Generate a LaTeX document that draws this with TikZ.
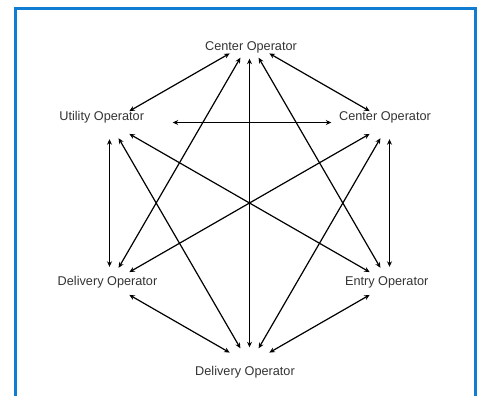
\documentclass[tikz,border=0pt]{standalone}
\usepackage{fontspec}
\setmainfont{Liberation Sans}
\usetikzlibrary{arrows.meta,shapes.geometric}
\definecolor{frameblue}{RGB}{16,124,210}
\definecolor{txt}{RGB}{51,51,51}
\begin{document}
\begin{tikzpicture}[x=1bp,y=-1bp,
  hub/.style={ellipse,minimum width=54bp,minimum height=33bp,inner sep=0pt},
  lbl/.style={anchor=base,text=txt,font=\fontsize{12.7bp}{15bp}\selectfont,inner sep=0pt},
  link/.style={<->,>={Stealth[length=5.5bp,width=5bp]},line width=1.2bp}]
\useasboundingbox (0,0) rectangle (480,395);
\draw[frameblue,line width=3bp] (475.5,397) -- (475.5,8.5) -- (15.5,8.5) -- (15.5,397);
% hubs (hexagon vertices)
\node[hub] (T)  at (249.5,42)    {};
\node[hub] (UL) at (109.5,122.5) {};
\node[hub] (UR) at (389.5,122.5) {};
\node[hub] (LL) at (109.5,283.5) {};
\node[hub] (LR) at (389.5,283.5) {};
\node[hub] (B)  at (249.5,364)   {};
% labels
\node[lbl] (tT)  at (251,50)      {Center Operator};
\node[lbl] (tUL) at (101.7,120.7) {Utility Operator};
\node[lbl] (tUR) at (385,120.7)   {Center Operator};
\node[lbl] (tLL) at (107.5,285)   {Delivery Operator};
\node[lbl] (tLR) at (386.7,285)   {Entry Operator};
\node[lbl] (tB)  at (245,375)     {Delivery Operator};
% connectors
\draw[link] (T) -- (UL);
\draw[link] (T) -- (UR);
\draw[link] (T) -- (LL);
\draw[link] (T) -- (LR);
\draw[link] (T) -- (B);
\draw[link,shorten <=36bp,shorten >=31bp] (UL) -- (UR);
\draw[link] (UL) -- (LL);
\draw[link] (UL) -- (LR);
\draw[link] (UL) -- (B);
\draw[link] (UR) -- (LL);
\draw[link] (UR) -- (LR);
\draw[link] (UR) -- (B);
\draw[link] (LL) -- (B);
\draw[link] (LR) -- (B);
\end{tikzpicture}
\end{document}
